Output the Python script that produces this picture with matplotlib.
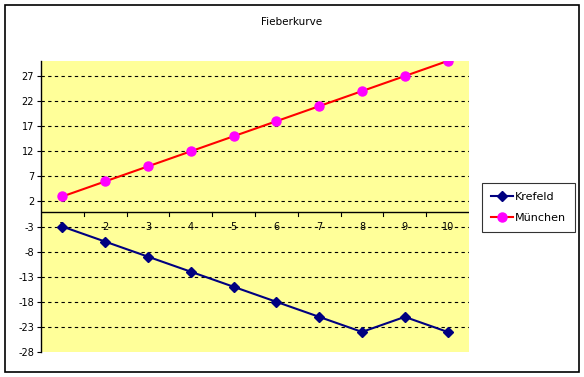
import matplotlib.pyplot as plt
from matplotlib.patches import Rectangle

# Daten
tage = [1, 2, 3, 4, 5, 6, 7, 8, 9, 10]
krefeld = [-3, -6, -9, -12, -15, -18, -21, -24, -21, -24]
muenchen = [3, 6, 9, 12, 15, 18, 21, 24, 27, 30]
y_ticks = [-28, -23, -18, -13, -8, -3, 2, 7, 12, 17, 22, 27]

plt.rcParams['font.family'] = ['DejaVu Sans']
plt.rcParams['font.size'] = 7
plt.rcParams['axes.unicode_minus'] = False

fig = plt.figure(figsize=(5.84, 3.77), dpi=100)
fig.patches.append(Rectangle((5 / 584, 1 - 372 / 377), 574 / 584, 367 / 377,
                             transform=fig.transFigure, fill=False,
                             edgecolor='black', linewidth=1.2))

ax = fig.add_axes([41 / 584, 1 - 352 / 377, 428 / 584, 291 / 377])
ax.set_facecolor('#ffff99')

ax.plot(tage, krefeld, color='#000080', linewidth=1.5, marker='D',
        markersize=5.5, markerfacecolor='#000080', label='Krefeld', zorder=3)
ax.plot(tage, muenchen, color='#ff0000', linewidth=1.5, marker='o',
        markersize=6.5, markerfacecolor='#ff00ff', markeredgecolor='#ff00ff',
        label='München', zorder=3)

ax.set_xlim(0.5, 10.5)
ax.set_ylim(-28, 30)
ax.set_yticks(y_ticks)
ax.set_xticks([])
for y in y_ticks[1:]:
    ax.axhline(y, color='black', linestyle=(0, (3, 3)), linewidth=0.8, zorder=1)

# x-Achse bei 0
ax.axhline(0, color='black', linewidth=1, zorder=2)
for i in range(1, 10):
    ax.plot([i + 0.5, i + 0.5], [0, -0.9], color='black', linewidth=0.8, zorder=2)
for t in tage:
    ax.text(t, -3, str(t), ha='center', va='center', fontsize=7, zorder=2)

for s in ['top', 'right', 'bottom']:
    ax.spines[s].set_visible(False)
ax.spines['left'].set_linewidth(1)
ax.tick_params(axis='y', length=3, width=0.8, pad=2, labelsize=7)

fig.text(0.5, 1 - 22 / 377, 'Fieberkurve', ha='center', va='center', fontsize=7.5)

leg = fig.legend(loc='upper left', bbox_to_anchor=(482 / 584, 1 - 183 / 377),
                 frameon=True, fancybox=False, edgecolor='black', fontsize=8,
                 handlelength=2.0, borderpad=0.8, labelspacing=1.0,
                 handletextpad=0.2, borderaxespad=0)
leg.get_frame().set_linewidth(0.8)

fig.savefig('out.png', dpi=100)
